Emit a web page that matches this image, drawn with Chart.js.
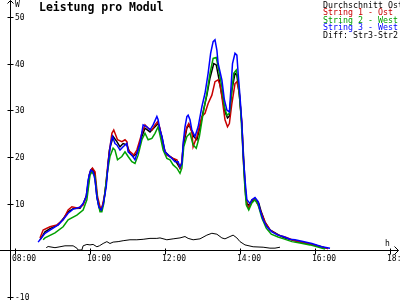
<!DOCTYPE html>
<html><head><meta charset="utf-8">
<script src="https://cdn.jsdelivr.net/npm/chart.js@4.4.0/dist/chart.umd.min.js"></script>
<style>html,body{margin:0;padding:0;background:#fff}canvas{display:block}</style>
</head><body><canvas id="c" width="400" height="300"></canvas>
<script>
const chartTitle = 'Leistung pro Modul';
const legendLabels = ['Durchschnitt Ost', 'String 1 - Ost', 'String 2 - West', 'String 3 - West', 'Diff: Str3-Str2'];
const seriesColors = ['#000000', '#c80000', '#00a000', '#0000ff', '#000000'];
const xTickHours = [8, 10, 12, 14, 16, 18];
const yTickValues = [-10, 10, 20, 30, 40, 50];
const yUnit = 'W';
const xUnit = 'h';

// time in minutes after 08:00, values in W
const avgT = [40,48,56,69,77,85,93,104,109,114,119,123,127,131,135,138,142,147,151,157,163,168,173,179,184,189,195,203,208,216,224,229,235,240,248,256,264,267,269,275,279,286,291,296,301,307,312,318,322,326,331,336,340,343,347,352,355,359,363,366,369,372,378,384,390,394,400,408,421,430,442,456,472,490,501];
const avgV = [2.2,3.9,4.6,5.4,6.7,8.2,8.9,9.0,9.9,11.6,16.3,17.4,16.8,11.4,9.0,8.5,10.5,15.5,21.5,24.4,23.3,22.2,22.9,22.6,20.8,20.1,20.8,24.4,26.2,25.4,26.5,27.2,24.4,21.1,20.1,19.4,17.6,18.7,22.2,26.2,26.9,24.4,23.7,26.5,29.7,33.3,37.0,40.1,39.8,37.0,33.3,29.7,28.4,28.8,34.4,38.0,37.6,33.3,26.9,19.4,11.8,9.5,10.3,11.1,10.1,8.2,6.0,4.3,3.3,2.7,2.2,1.7,1.3,0.7,0.3];

const s1T = [40,45,56,67,77,85,91,101,109,115,120,124,128,132,136,139,144,149,155,158,164,171,176,179,181,187,190,195,203,208,213,219,224,228,232,237,243,248,253,259,264,267,270,275,278,283,285,291,299,304,309,315,320,325,328,331,336,340,343,347,352,355,359,363,365,368,371,374,379,384,389,394,400,408,421,432,443,456,472,488,501];
const s1V = [2.6,4.3,5.0,5.4,6.5,8.6,9.3,9.0,9.7,11.8,16.8,17.6,16.8,11.5,9.3,9.0,12.2,19.0,25.1,25.8,23.7,23.3,23.7,23.3,21.5,20.8,20.4,21.5,25.1,26.9,26.2,25.8,26.9,27.6,26.2,22.2,20.4,20.1,19.7,19.4,17.6,19.0,23.7,26.5,27.2,25.4,22.2,24.4,28.7,29.4,31.5,33.3,36.2,36.6,35.5,33.0,28.0,26.5,27.2,31.5,35.8,36.2,33.7,27.2,20.1,14.0,9.7,9.0,10.8,11.0,9.7,8.0,6.0,4.3,3.2,2.8,2.2,1.7,1.3,0.75,0.3];

const s2T = [45,48,64,77,85,99,109,115,120,123,128,132,136,139,142,147,152,157,160,164,171,176,181,187,192,197,203,208,213,219,224,229,232,237,243,248,253,259,264,267,270,275,280,285,290,295,301,307,312,317,322,325,331,335,339,343,347,350,354,357,361,364,367,370,374,379,384,389,395,402,410,421,430,443,456,472,496];
const s2V = [2.2,2.6,3.7,5.0,6.5,7.5,8.6,10.8,16.1,16.8,15.8,10.8,8.2,8.2,10.0,16.1,20.1,21.9,21.5,19.4,20.1,21.1,20.1,19.0,18.6,20.4,23.7,25.1,23.7,24.0,25.1,26.5,24.7,21.5,19.7,19.4,18.3,17.6,16.5,17.6,22.2,24.4,25.1,22.6,21.9,24.4,29.4,33.7,38.0,41.2,41.4,39.4,35.1,30.8,29.0,29.4,34.4,38.0,38.7,36.6,30.1,22.9,15.1,9.7,8.6,10.1,10.8,9.7,6.9,4.7,3.4,2.8,2.4,1.8,1.5,1.1,0.2];

const s3T = [37,48,56,69,77,85,93,104,109,114,117,121,125,128,131,134,138,141,146,149,153,156,160,163,168,173,179,181,187,192,200,205,211,216,221,227,229,232,235,240,245,251,256,261,264,267,269,272,275,277,280,283,288,293,299,304,309,313,317,320,323,325,331,335,339,343,346,348,352,355,357,360,363,365,368,371,376,379,384,389,392,397,403,411,421,429,440,448,459,475,491,504];
const s3V = [1.7,3.6,4.3,5.4,6.5,7.9,8.8,9.2,10.0,11.5,15.1,17.2,16.8,15.1,11.5,9.3,8.6,9.7,13.6,18.6,22.9,24.4,22.9,22.6,21.5,22.2,22.9,21.1,20.4,19.4,22.9,26.9,26.5,25.8,26.9,28.7,28.0,25.8,24.4,21.1,20.4,19.7,19.0,19.0,17.9,18.6,22.9,26.5,28.7,29.0,28.0,25.8,24.4,26.5,30.8,33.7,38.0,42.3,44.8,45.2,43.0,40.1,36.6,32.3,30.1,29.7,35.8,40.1,42.3,41.9,38.0,33.0,27.2,20.8,15.1,10.8,10.0,10.8,11.3,10.4,8.6,6.5,5.0,3.9,3.2,2.9,2.3,2.2,1.9,1.4,0.7,0.4];

const diffT = [50,53,64,72,80,93,99,101,107,109,115,120,125,131,135,141,147,152,157,165,173,184,195,205,216,227,232,243,253,264,272,277,285,296,307,315,323,331,336,344,349,355,360,368,381,397,408,416,424];
const diffV = [0.5,0.75,0.5,0.7,0.9,0.9,0.4,0.0,0.0,0.9,1.2,1.1,1.2,0.7,0.9,1.4,1.8,1.4,1.7,1.8,2.0,2.2,2.2,2.3,2.5,2.5,2.6,2.2,2.4,2.6,2.9,2.5,2.2,2.4,3.2,3.6,3.4,2.6,2.4,2.9,3.2,2.6,1.8,1.1,0.7,0.6,0.4,0.4,0.6];

// axis ranges
const xMin = 7.6, xMax = 18.2667;     // hours
const yMin = -10.75, yMax = 53.76;    // W
const yAxisAtHour = 7.8667;

function pts(T, V) { return T.map((t, i) => ({ x: 8 + t / 60, y: V[i] })); }
function pad2(n) { return (n < 10 ? '0' : '') + n; }

const MONO = '"DejaVu Sans Mono", "Liberation Mono", monospace';

const retroAxes = {
  id: 'retroAxes',
  beforeDatasetsDraw(chart) {
    const { ctx } = chart;
    const xs = chart.scales.x, ys = chart.scales.y;
    const ax = Math.round(xs.getPixelForValue(yAxisAtHour)) + 0.5;
    const ay = Math.round(ys.getPixelForValue(0)) + 0.5;
    ctx.save();
    ctx.strokeStyle = '#000'; ctx.fillStyle = '#000'; ctx.lineWidth = 1;
    ctx.beginPath();
    // y axis
    ctx.moveTo(ax, chart.height); ctx.lineTo(ax, 0.5);
    ctx.moveTo(ax - 3, 3.5); ctx.lineTo(ax, 0.5); ctx.lineTo(ax + 3, 3.5);
    // x axis
    ctx.moveTo(0, ay); ctx.lineTo(chart.width - 1.5, ay);
    ctx.moveTo(chart.width - 5.5, ay - 4); ctx.lineTo(chart.width - 1.5, ay); ctx.lineTo(chart.width - 5.5, ay + 4);
    // y ticks
    yTickValues.forEach(v => {
      const py = Math.round(ys.getPixelForValue(v)) + 0.5;
      ctx.moveTo(ax - 3, py); ctx.lineTo(ax + 3, py);
    });
    // x ticks
    xTickHours.forEach(h => {
      const px = Math.round(xs.getPixelForValue(h)) + 0.5;
      ctx.moveTo(px, ay - 2); ctx.lineTo(px, ay + 4);
    });
    ctx.stroke();
    // labels
    ctx.font = '8px ' + MONO;
    ctx.textBaseline = 'middle'; ctx.textAlign = 'left';
    yTickValues.forEach(v => {
      const py = Math.round(ys.getPixelForValue(v));
      ctx.fillText(String(v), ax + 4.5, py + 0.5);
    });
    ctx.textBaseline = 'alphabetic';
    xTickHours.forEach(h => {
      const px = Math.round(xs.getPixelForValue(h));
      ctx.fillText(pad2(h) + ':00', px - 3, ay + 10);
    });
    ctx.fillText(yUnit, ax + 4.5, 7);
    ctx.fillText(xUnit, 385, ay - 5);
    ctx.restore();
  },
  afterDraw(chart) {
    const { ctx } = chart;
    ctx.save();
    ctx.textAlign = 'left'; ctx.textBaseline = 'alphabetic';
    ctx.fillStyle = '#000';
    ctx.font = 'bold 11.5px ' + MONO;
    ctx.fillText(chartTitle, 39, 11);
    ctx.font = '8.3px ' + MONO;
    const baselines = [7.5, 15, 22.5, 30, 37.5];
    legendLabels.forEach((lab, i) => {
      ctx.fillStyle = seriesColors[i];
      ctx.fillText(lab, 323, baselines[i]);
    });
    ctx.restore();
  }
};

new Chart(document.getElementById('c'), {
  type: 'line',
  data: {
    datasets: [
      { label: legendLabels[0], data: pts(avgT, avgV), borderColor: seriesColors[0], borderWidth: 1.5, order: 4 },
      { label: legendLabels[1], data: pts(s1T, s1V), borderColor: seriesColors[1], borderWidth: 1.5, order: 3 },
      { label: legendLabels[2], data: pts(s2T, s2V), borderColor: seriesColors[2], borderWidth: 1.5, order: 2 },
      { label: legendLabels[3], data: pts(s3T, s3V), borderColor: seriesColors[3], borderWidth: 1.5, order: 1 },
      { label: legendLabels[4], data: pts(diffT, diffV), borderColor: seriesColors[4], borderWidth: 1, order: 5 }
    ]
  },
  options: {
    responsive: false, animation: false, devicePixelRatio: 1,
    layout: { padding: 0 },
    parsing: true,
    elements: { point: { radius: 0 }, line: { tension: 0, fill: false } },
    plugins: { legend: { display: false }, tooltip: { enabled: false }, title: { display: false } },
    scales: {
      x: { type: 'linear', min: xMin, max: xMax, display: false },
      y: { type: 'linear', min: yMin, max: yMax, display: false }
    }
  },
  plugins: [retroAxes]
});
</script>
</body></html>
